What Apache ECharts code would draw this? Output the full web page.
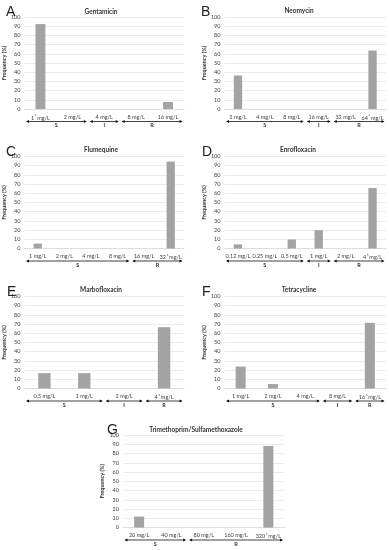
<!DOCTYPE html>
<html><head><meta charset="utf-8">
<script src="https://cdn.jsdelivr.net/npm/echarts@6/dist/echarts.min.js"></script>
<style>html,body{margin:0;padding:0;background:#fff}#c{width:389px;height:550px}</style>
</head><body><div id="c"></div>
<script>
const titles = ['Gentamicin','Neomycin','Flumequine','Enrofloxacin','Marbofloxacin','Tetracycline','Trimethoprim/Sulfamethoxazole'];
const panelLetters = ['A','B','C','D','E','F','G'];
const catsA = ['1*mg/L','2 mg/L','4 mg/L','8 mg/L','16 mg/L'];
const valsA = [92.3,0,0,0,7.7];
const groupsA = [['S',0,1],['I',2,2],['R',3,4]];
const catsB = ['2 mg/L','4 mg/L','8 mg/L','16 mg/L','32 mg/L','64*mg/L'];
const valsB = [36.4,0,0,0,0,63.6];
const groupsB = [['S',0,2],['I',3,3],['R',4,5]];
const catsC = ['1 mg/L','2 mg/L','4 mg/L','8 mg/L','16 mg/L','32*mg/L'];
const valsC = [5.3,0,0,0,0,94.7];
const groupsC = [['S',0,3],['R',4,5]];
const catsD = ['0.12 mg/L','0.25 mg/L','0.5 mg/L','1 mg/L','2 mg/L','4*mg/L'];
const valsD = [4.5,0,9.8,20,0,65.7];
const groupsD = [['S',0,2],['I',3,3],['R',4,5]];
const catsE = ['0.5 mg/L','1 mg/L','2 mg/L','4*mg/L'];
const valsE = [16.7,16.7,0,66.6];
const groupsE = [['S',0,1],['I',2,2],['R',3,3]];
const catsF = ['1 mg/L','2 mg/L','4 mg/L','8 mg/L','16*mg/L'];
const valsF = [23.8,4.8,0,0,71.4];
const groupsF = [['S',0,2],['I',3,3],['R',4,4]];
const catsG = ['20 mg/L','40 mg/L','80 mg/L','160 mg/L','320*mg/L'];
const valsG = [11.8,0,0,0,88.2];
const groupsG = [['S',0,1],['R',2,4]];
const yMin = 0, yMax = 100, yStep = 10;
const yName = 'Frequency (%)';

const allCats = [catsA,catsB,catsC,catsD,catsE,catsF,catsG];
const allVals = [valsA,valsB,valsC,valsD,valsE,valsF,valsG];
const allGroups = [groupsA,groupsB,groupsC,groupsD,groupsE,groupsF,groupsG];

const FONT = 'Lato, "Liberation Sans", sans-serif';
const grids = [
  {left:22.5, top:17, width:161.5, height:92},
  {left:224.5, top:17, width:161.5, height:92},
  {left:22.5, top:156.5, width:161.5, height:92},
  {left:224.5, top:156.5, width:161.5, height:92},
  {left:22.5, top:296.5, width:161.5, height:92},
  {left:224.5, top:296.5, width:161.5, height:92},
  {left:123, top:435, width:161.5, height:92.5}
];
const titlePos = [[96,3],[294,2],[96,141],[293,141],[96,281],[294,281],[191,421]];
const letterPos = [[1,0],[196,0],[1,140],[197,140],[2,280],[197,280],[102,418]];

const titleArr = [];
titles.forEach((t,i)=>{
  titleArr.push({text:t, left:titlePos[i][0], top:titlePos[i][1], textAlign:'center',
    textStyle:{fontSize:6.5, fontWeight:'bold', color:'#333', fontFamily:FONT}});
  titleArr.push({text:panelLetters[i], left:letterPos[i][0], top:letterPos[i][1],
    textStyle:{fontSize:14, fontWeight:'normal', color:'#222', fontFamily:'"Liberation Sans", Arial, sans-serif'}});
});

function fmtCat(v){
  return v.replace('*', '{s|*}');
}

const xAxes = [], yAxes = [], series = [];
allCats.forEach((cats,i)=>{
  xAxes.push({type:'category', gridIndex:i, data:cats,
    axisLine:{lineStyle:{color:'#d9d9d9', width:0.8}}, axisTick:{show:false},
    axisLabel:{interval:0, fontSize:5.5, color:'#404040', margin:5, fontFamily:FONT,
      formatter:fmtCat, rich:{s:{fontSize:5, verticalAlign:'top', color:'#404040', padding:[0,0.5,3,0.5]}}}});
  yAxes.push({type:'value', gridIndex:i, min:yMin, max:yMax, interval:yStep,
    name:yName, nameLocation:'middle', nameGap:13, nameRotate:90,
    nameTextStyle:{fontSize:5.5, fontWeight:'bold', color:'#333', fontFamily:FONT},
    axisLine:{show:false}, axisTick:{show:false},
    axisLabel:{fontSize:5.5, color:'#404040', margin:4, fontFamily:FONT},
    splitLine:{lineStyle:{color:'#e3e3e3', width:0.7}}});
  series.push({type:'bar', xAxisIndex:i, yAxisIndex:i, data:allVals[i], barWidth:'31%',
    itemStyle:{color:'#a3a3a3'}, silent:true});
  const groups = allGroups[i];
  series.push({type:'custom', xAxisIndex:i, yAxisIndex:i, clip:false, silent:true,
    data:groups.map(g=>[g[1], g[2]]),
    encode:{x:[0,1]},
    renderItem:function(params, api){
      const s = api.value(0), e = api.value(1);
      const p1 = api.coord([s, 0]), p2 = api.coord([e, 0]);
      const bw = api.size([1, 0])[0];
      const x1 = p1[0] - bw/2 + 1.5, x2 = p2[0] + bw/2 - 1.5;
      const y = p1[1] + 12.5;
      return {type:'group', children:[
        {type:'line', shape:{x1:x1+1, y1:y, x2:x2-1, y2:y}, style:{stroke:'#111', lineWidth:0.8}},
        {type:'polygon', shape:{points:[[x1,y],[x1+3,y-1.4],[x1+3,y+1.4]]}, style:{fill:'#111'}},
        {type:'polygon', shape:{points:[[x2,y],[x2-3,y-1.4],[x2-3,y+1.4]]}, style:{fill:'#111'}},
        {type:'text', x:(x1+x2)/2, y:y+4.2, style:{text:groups[params.dataIndex][0], fontSize:5.5, fontWeight:'bold',
          fill:'#333', align:'center', verticalAlign:'middle', fontFamily:FONT}}
      ]};
    }});
});

const chart = echarts.init(document.getElementById('c'), null, {renderer:'canvas'});
chart.setOption({
  animation:false,
  backgroundColor:'#fff',
  title:titleArr,
  grid:grids,
  xAxis:xAxes,
  yAxis:yAxes,
  series:series
});
</script></body></html>
